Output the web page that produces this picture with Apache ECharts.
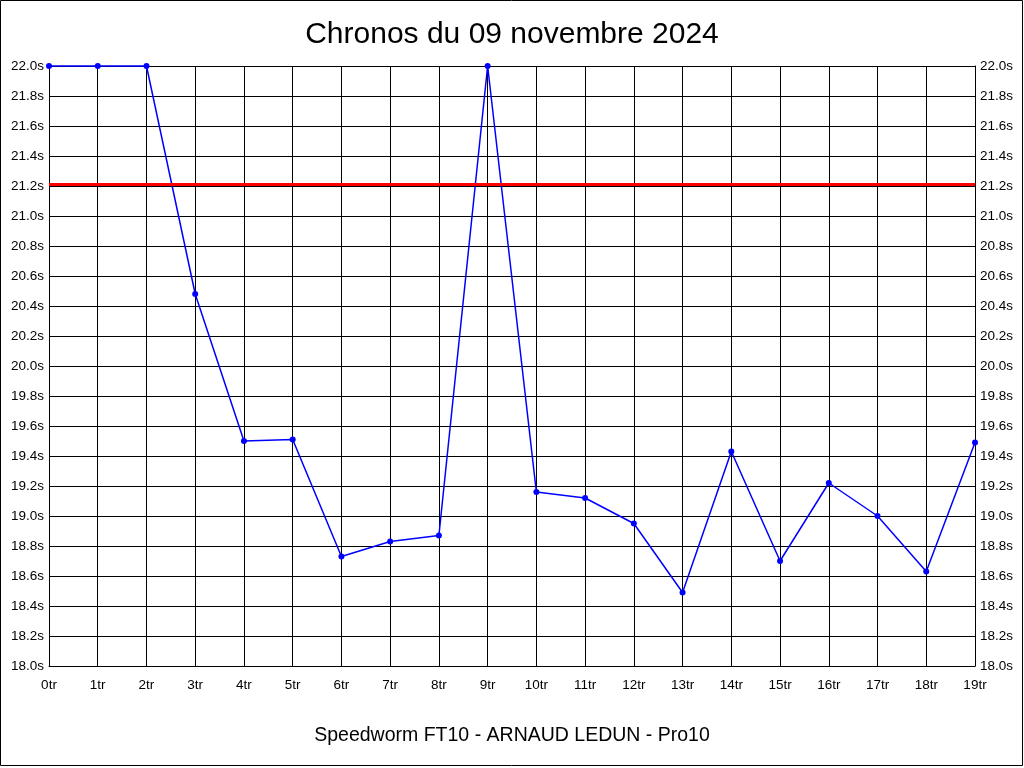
<!DOCTYPE html>
<html><head><meta charset="utf-8">
<script src="https://cdn.jsdelivr.net/npm/echarts@6/dist/echarts.min.js"></script>
<style>html,body{margin:0;padding:0;background:#fff}#c{width:1024px;height:768px}</style>
</head><body><div id="c"></div>
<script>
const categories = ['0tr','1tr','2tr','3tr','4tr','5tr','6tr','7tr','8tr','9tr','10tr','11tr','12tr','13tr','14tr','15tr','16tr','17tr','18tr','19tr'];
const times = [22.0,22.0,22.0,20.48,19.50,19.51,18.73,18.83,18.87,22.0,19.16,19.12,18.95,18.49,19.43,18.70,19.22,19.00,18.63,19.49];
const referenceTime = 21.21;
const yMin = 18.0, yMax = 22.0, yStep = 0.2;
const titleText = 'Chronos du 09 novembre 2024';
const subtitleText = 'Speedworm FT10 - ARNAUD LEDUN - Pro10';

const chart = echarts.init(document.getElementById('c'));
const fam = '"Liberation Sans", Arial, sans-serif';
const yAxisCommon = {
  type: 'value', min: yMin, max: yMax, interval: yStep,
  axisLine: {show: true, lineStyle: {color: '#000', width: 1}},
  axisTick: {show: false},
  splitLine: {show: true, lineStyle: {color: '#000', width: 1}},
  axisLabel: {color: '#000', fontFamily: fam, fontSize: 13.5, margin: 5, formatter: v => v.toFixed(1) + 's'}
};
chart.setOption({
  animation: false,
  backgroundColor: '#fff',
  title: [
    {text: titleText, left: 'center', top: 15, textStyle: {fontFamily: fam, fontSize: 30, fontWeight: 'normal', color: '#000'}},
    {text: subtitleText, left: 'center', top: 721, textStyle: {fontFamily: fam, fontSize: 19.5, fontWeight: 'normal', color: '#000'}}
  ],
  graphic: [{type: 'rect', shape: {x: 0.5, y: 0.5, width: 1022, height: 765}, style: {fill: 'none', stroke: '#000', lineWidth: 1}, silent: true}],
  grid: {left: 49, right: 49, top: 66, bottom: 102, containLabel: false},
  xAxis: {
    type: 'category', data: categories, boundaryGap: false,
    axisLine: {show: true, lineStyle: {color: '#000'}},
    axisTick: {show: false},
    splitLine: {show: true, lineStyle: {color: '#000', width: 1}},
    axisLabel: {color: '#000', fontFamily: fam, fontSize: 13.5, margin: 12, interval: 0}
  },
  yAxis: [
    Object.assign({}, yAxisCommon, {position: 'left'}),
    Object.assign({}, yAxisCommon, {position: 'right', splitLine: {show: false}})
  ],
  series: [{
    type: 'line', data: times, yAxisIndex: 0,
    symbol: 'circle', symbolSize: 6, clip: false,
    lineStyle: {color: '#0000ff', width: 1.5},
    itemStyle: {color: '#0000ff'},
    markLine: {
      silent: true, symbol: ['none', 'none'], label: {show: false},
      lineStyle: {color: '#ff0000', width: 3, type: 'solid'},
      data: [{yAxis: referenceTime}]
    }
  }]
});
</script></body></html>
